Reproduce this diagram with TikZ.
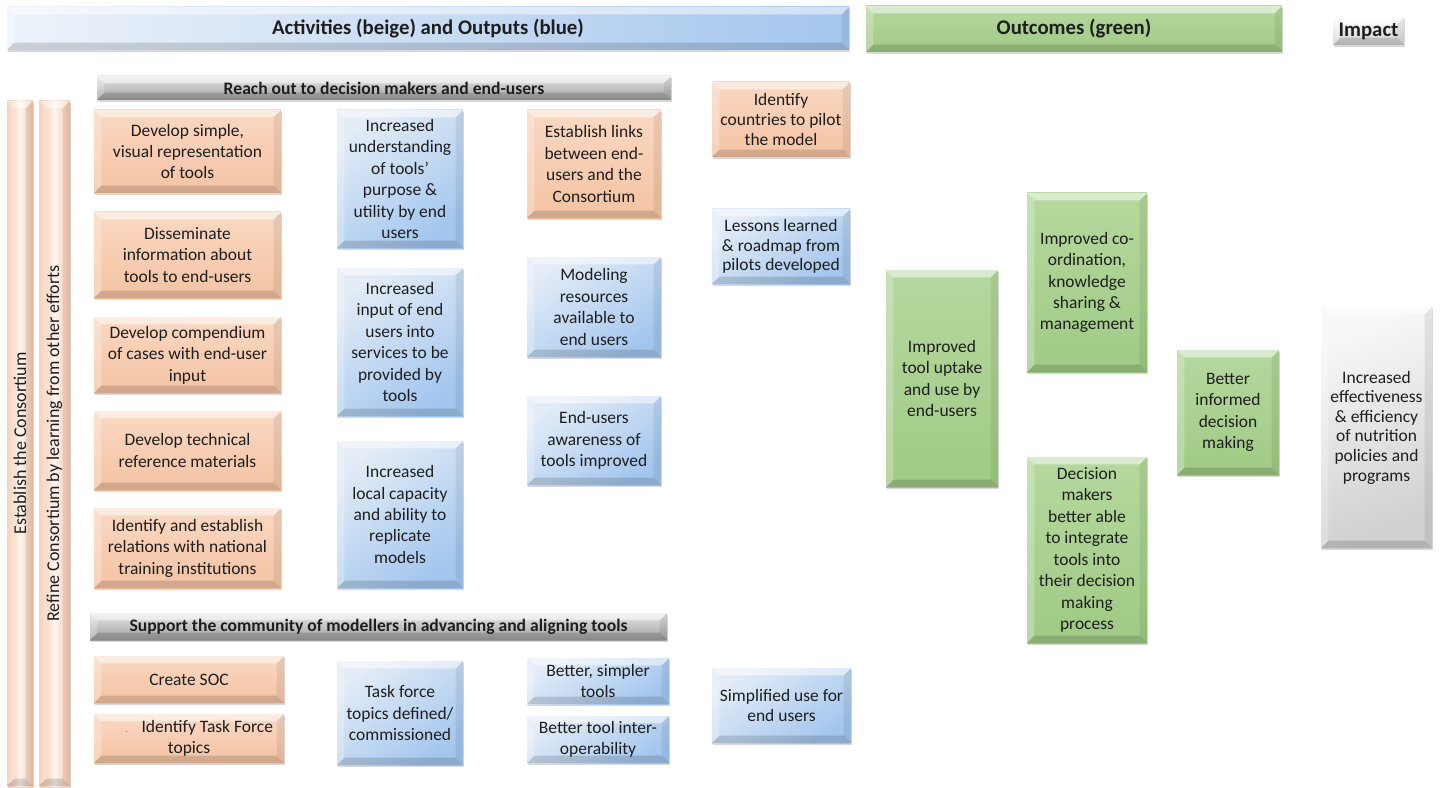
\documentclass[tikz,border=0pt]{standalone}
\usepackage{fontspec}
\setmainfont{Carlito}
\usetikzlibrary{shadows}
\definecolor{txt}{HTML}{1E1E1E}
\definecolor{beigeT}{HTML}{FAD8C2}
\definecolor{beigeB}{HTML}{F4C3A3}
\definecolor{blueT}{HTML}{E3ECF7}
\definecolor{blueB}{HTML}{A3C6EE}
\definecolor{greenT}{HTML}{B5D89E}
\definecolor{greenB}{HTML}{A0CA85}
\definecolor{grayT}{HTML}{F8F8F8}
\definecolor{grayB}{HTML}{D0D0D0}
\definecolor{subT}{HTML}{E6E6E6}
\definecolor{subB}{HTML}{A0A0A0}
\definecolor{hdrL}{HTML}{EEF3FA}
\definecolor{hdrR}{HTML}{A4C6EE}
\newcommand\bvsz{5.5pt}
\newcommand\bodyfont{\fontsize{13.1}{16.1}\selectfont}
\newcommand\smallbodyfont{\fontsize{13.1}{14.7}\selectfont}
\newcommand\hdrfont{\fontsize{15.6}{18}\selectfont\bfseries}
\newcommand\subfont{\fontsize{13.2}{15}\selectfont\bfseries}
\newcommand\barfont{\fontsize{13.5}{15}\selectfont}
% box: style, name, x1, y1, x2, y2 (pixels), text
\newcommand\bx[7]{\node[#1, minimum width={(#5-#3)*0.75pt}, minimum height={(#6-#4)*0.75pt}] (#2) at ({(#3+#5)/2},{(#4+#6)/2}) {#7};}
\tikzset{
  x=0.75pt, y=-0.75pt,
  bevel/.style={path picture={
    \path (path picture bounding box.north west) coordinate (bvA)
          (path picture bounding box.north east) coordinate (bvB)
          (path picture bounding box.south east) coordinate (bvC)
          (path picture bounding box.south west) coordinate (bvD);
    \fill[white,opacity=0.5] (bvA) -- (bvB) -- ([shift={(-\bvsz,-\bvsz)}]bvB) -- ([shift={(\bvsz,-\bvsz)}]bvA) -- cycle;
    \fill[white,opacity=0.25] (bvA) -- ([shift={(\bvsz,-\bvsz)}]bvA) -- ([shift={(\bvsz,\bvsz)}]bvD) -- (bvD) -- cycle;
    \fill[black,opacity=0.14] (bvD) -- ([shift={(\bvsz,\bvsz)}]bvD) -- ([shift={(-\bvsz,\bvsz)}]bvC) -- (bvC) -- cycle;
    \fill[black,opacity=0.07] (bvC) -- ([shift={(-\bvsz,\bvsz)}]bvC) -- ([shift={(-\bvsz,-\bvsz)}]bvB) -- (bvB) -- cycle;
  }},
  box/.style={rectangle, inner sep=0pt, outer sep=0pt, align=center, text=txt, font=\bodyfont,
    drop shadow={shadow xshift=0.6pt, shadow yshift=-1.6pt, opacity=0.3}, bevel},
  beigebox/.style={box, top color=beigeT, bottom color=beigeB},
  bluebox/.style={box, top color=blueT, bottom color=blueB, shading angle=35},
  greenbox/.style={box, top color=greenT, bottom color=greenB},
  graybox/.style={box, top color=grayT, bottom color=grayB, shading angle=20},
  hdrblue/.style={box, font=\hdrfont, left color=hdrL, right color=hdrR},
  hdrgreen/.style={box, font=\hdrfont, top color=greenT, bottom color=greenB},
  hdrgray/.style={box, font=\hdrfont, top color=white, bottom color=grayB},
  subhdr/.style={box, font=\subfont, top color=subT, bottom color=subB},
  sidebar/.style={box, left color=beigeB, right color=beigeB, middle color=white!75!beigeT},
  barlabel/.style={rotate=90, font=\barfont, text=txt, inner sep=0pt},
}
\begin{document}
\begin{tikzpicture}
\useasboundingbox (0,0) rectangle (1442,788);
\fill[white] (0,0) rectangle (1442,788);

% headers
\bx{hdrblue}{hAct}{7}{7}{849}{50}{Activities (beige) and Outputs (blue)}
\bx{hdrgreen}{hOut}{866}{6}{1282}{52}{Outcomes (green)}
\bx{hdrgray}{hImp}{1333}{17}{1404}{45}{Impact}

% side bars
\bx{sidebar}{bar1}{7}{101}{33}{786}{}
\bx{sidebar}{bar2}{39}{101}{70}{786}{}
\node[barlabel] (bar1lbl) at (bar1.center) {Establish the Consortium};
\node[barlabel] (bar2lbl) at (bar2.center) {Refine Consortium by learning from other efforts};

% sub headers
\bx{subhdr}{sReach}{97}{76}{671}{100}{Reach out to decision makers and end-users}
\bx{subhdr}{sSupport}{90}{613}{667}{640}{Support the community of modellers in advancing and aligning tools}

% column 1 (activities)
\bx{beigebox}{a1}{94}{110}{281}{193}{Develop simple,\\visual representation\\of tools}
\bx{beigebox}{a2}{94}{212}{281}{298}{Disseminate\\information about\\tools to end-users}
\bx{beigebox}{a3}{94}{317}{281}{393}{Develop compendium\\of cases with end-user\\input}
\bx{beigebox}{a4}{94}{411}{281}{490}{Develop technical\\reference materials}
\bx{beigebox}{a5}{94}{508}{281}{588}{Identify and establish\\relations with national\\training institutions}

% column 2 (outputs)
\bx{bluebox}{o1}{337}{110}{463}{248}{Increased\\understanding\\of tools’\\purpose \&\\utility by end\\users}
\bx{bluebox}{o2}{337}{268}{463}{416}{Increased\\input of end\\users into\\services to be\\provided by\\tools}
\bx{bluebox}{o3}{337}{441}{463}{588}{Increased\\local capacity\\and ability to\\replicate\\models}

% column 3
\bx{beigebox}{a6}{527}{110}{661}{218}{Establish links\\between end-\\users and the\\Consortium}
\bx{bluebox}{o4}{527}{257}{661}{357}{Modeling\\resources\\available to\\end users}
\bx{bluebox}{o5}{527}{396}{661}{485}{End-users\\awareness of\\tools improved}

% column 4
\bx{beigebox, font=\smallbodyfont}{a7}{712}{82}{850}{157}{Identify\\countries to pilot\\the model}
\bx{bluebox, font=\smallbodyfont}{o6}{712}{209}{850}{284}{Lessons learned\\\& roadmap from\\pilots developed}

% bottom row
\bx{beigebox}{a8}{94}{656}{284}{703}{Create SOC}
\bx{beigebox}{a9}{94}{714}{284}{763}{\hspace{1.2em}{\tiny.}\hspace{0.8em}Identify Task Force\\topics}
\bx{bluebox}{o7}{337}{661}{463}{765}{Task force\\topics defined/\\commissioned}
\bx{bluebox}{o8}{527}{658}{669}{704}{Better, simpler\\tools}
\bx{bluebox}{o9}{527}{716}{669}{763}{Better tool inter-\\operability}
\bx{bluebox, font=\smallbodyfont}{o10}{712}{668}{851}{743}{Simplified use for\\end users}

% outcomes
\bx{greenbox}{g1}{886}{270}{998}{487}{Improved\\tool uptake\\and use by\\end-users}
\bx{greenbox}{g2}{1027}{193}{1147}{372}{Improved co-\\ordination,\\knowledge\\sharing \&\\management}
\bx{greenbox}{g3}{1027}{457}{1147}{643}{Decision\\makers\\better able\\to integrate\\tools into\\their decision\\making\\process}
\bx{greenbox}{g4}{1177}{350}{1279}{475}{Better\\informed\\decision\\making}

% impact
\bx{graybox, font=\smallbodyfont}{i1}{1321}{307}{1432}{548}{Increased\\effectiveness\\\& efficiency\\of nutrition\\policies and\\programs}
\end{tikzpicture}
\end{document}
